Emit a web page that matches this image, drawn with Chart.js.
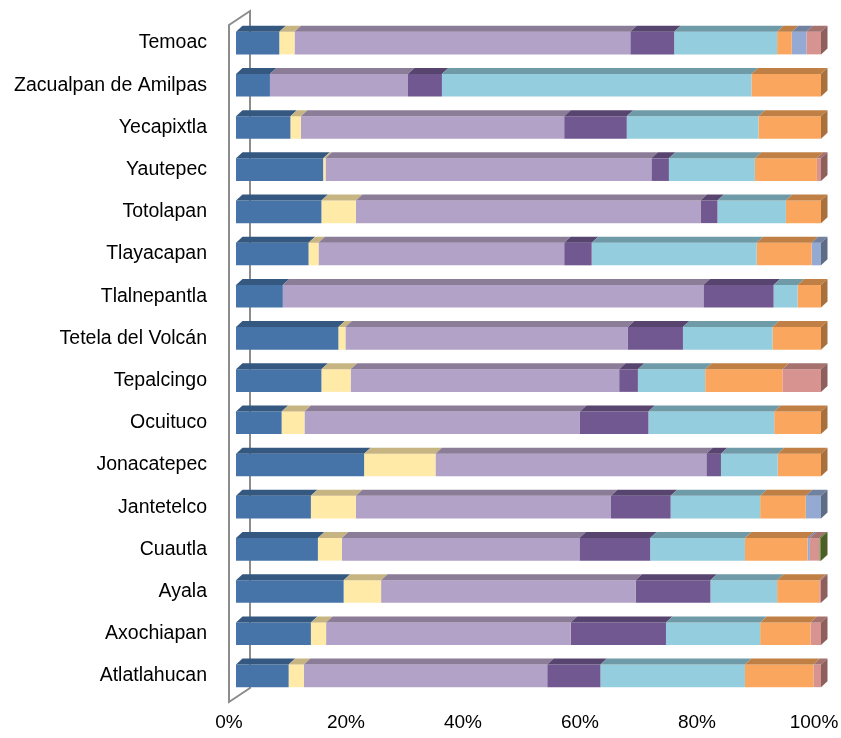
<!DOCTYPE html>
<html>
<head>
<meta charset="utf-8">
<script src="https://cdn.jsdelivr.net/npm/chart.js@4"></script>
<style>
    body { margin: 0; background: #ffffff; }
    #wrap { width: 841px; height: 738px; }
</style>
</head>
<body>
<div id="wrap"><canvas id="chart" width="841" height="738"></canvas></div>
<script>
    // Municipios (de arriba hacia abajo)
    var municipios = ['Temoac', 'Zacualpan de Amilpas', 'Yecapixtla', 'Yautepec', 'Totolapan',
        'Tlayacapan', 'Tlalnepantla', 'Tetela del Volcán', 'Tepalcingo', 'Ocuituco',
        'Jonacatepec', 'Jantetelco', 'Cuautla', 'Ayala', 'Axochiapan', 'Atlatlahucan'];

    // Porcentajes, una serie por color
    var serie1 = [7.4, 5.8, 9.3, 14.9, 14.6, 12.4, 8.0, 17.5, 14.6, 7.8, 21.9, 12.8, 14.0, 18.4, 12.8, 9.0];
    var serie2 = [2.6, 0, 1.8, 0.4, 5.9, 1.7, 0, 1.2, 5.0, 3.9, 12.2, 7.7, 4.1, 6.4, 2.6, 2.6];
    var serie3 = [57.4, 23.6, 45.0, 55.7, 58.9, 42.0, 71.9, 48.3, 45.9, 47.1, 46.3, 43.6, 40.6, 43.5, 41.8, 41.6];
    var serie4 = [7.5, 5.8, 10.7, 3.0, 2.9, 4.7, 12.0, 9.4, 3.2, 11.7, 2.5, 10.2, 12.1, 12.8, 16.3, 9.1];
    var serie5 = [17.6, 52.9, 22.5, 14.7, 11.7, 28.2, 4.1, 15.3, 11.5, 21.5, 9.7, 15.3, 16.2, 11.4, 16.1, 24.7];
    var serie6 = [2.5, 11.9, 10.7, 10.6, 6.0, 9.4, 4.0, 8.3, 13.2, 8.0, 7.4, 7.8, 10.7, 7.2, 8.6, 11.7];
    var serie7 = [2.5, 0, 0, 0, 0, 1.6, 0, 0, 0, 0, 0, 2.6, 0.4, 0, 0, 0];
    var serie8 = [2.5, 0, 0, 0.7, 0, 0, 0, 0, 6.6, 0, 0, 0, 1.6, 0.3, 1.8, 1.3];
    var serie9 = [0, 0, 0, 0, 0, 0, 0, 0, 0, 0, 0, 0, 0.3, 0, 0, 0];

    var xTicks = [0, 20, 40, 60, 80, 100];

    var series = [serie1, serie2, serie3, serie4, serie5, serie6, serie7, serie8, serie9];
    // [frente, cara superior, lado]
    var colores = [
        ['#4674a8', '#34587f', '#2c4a6b'],
        ['#ffeaa8', '#c6b583', '#a89a6e'],
        ['#b3a2c7', '#8b7c98', '#76688a'],
        ['#725890', '#574570', '#4a3a5f'],
        ['#94cddd', '#6f9ba8', '#5e8590'],
        ['#faa65e', '#c07f45', '#a8703d'],
        ['#95aad2', '#72819f', '#5f6c86'],
        ['#d69390', '#a5726f', '#8d5f5d'],
        ['#7a9450', '#5a7030', '#4c5f29']
    ];

    var DX = 6.5, DY = 6;

    function poly(ctx, pts, color) {
        ctx.beginPath();
        ctx.moveTo(pts[0][0], pts[0][1]);
        for (var k = 1; k < pts.length; k++) {
            ctx.lineTo(pts[k][0], pts[k][1]);
        }
        ctx.closePath();
        ctx.fillStyle = color;
        ctx.fill();
    }

    function sinPadding(scale) {
        scale.paddingLeft = 0;
        scale.paddingRight = 0;
        scale.paddingTop = 0;
        scale.paddingBottom = 0;
    }

    // Paredes del eje (efecto 3D)
    var wallPlugin = {
        id: 'wall',
        beforeDatasetsDraw: function (chart) {
            var ctx = chart.ctx;
            var x0 = chart.scales.x.getPixelForValue(0);
            var a = chart.chartArea;
            ctx.save();
            ctx.strokeStyle = '#8c8c8c';
            ctx.lineWidth = 2;
            ctx.beginPath();
            ctx.moveTo(x0 - 7, a.top + 3);
            ctx.lineTo(x0 + 14, a.top - 11);
            ctx.lineTo(x0 + 14, a.bottom - 9);
            ctx.lineTo(x0 - 7, a.bottom + 5);
            ctx.closePath();
            ctx.stroke();
            ctx.restore();
        },
        afterDatasetsDraw: function (chart) {
            var ctx = chart.ctx;
            ctx.save();
            for (var i = 0; i < municipios.length; i++) {
                var last = null;
                for (var d = 0; d < series.length; d++) {
                    var el = chart.getDatasetMeta(d).data[i];
                    if (!series[d][i]) continue;
                    var left = Math.min(el.x, el.base);
                    var right = Math.max(el.x, el.base);
                    var top = el.y - el.height / 2;
                    poly(ctx, [[left, top], [left + DX, top - DY], [right + DX, top - DY], [right, top]], colores[d][1]);
                    last = d;
                }
                if (last !== null) {
                    var e = chart.getDatasetMeta(last).data[i];
                    var r = Math.max(e.x, e.base);
                    var t = e.y - e.height / 2;
                    var b = e.y + e.height / 2;
                    poly(ctx, [[r, t], [r + DX, t - DY], [r + DX, b - DY], [r, b]], colores[last][2]);
                }
            }
            ctx.restore();
        }
    };

    var fuente = "'Liberation Sans', Arial, sans-serif";

    new Chart(document.getElementById('chart').getContext('2d'), {
        type: 'bar',
        data: {
            labels: municipios,
            datasets: series.map(function (s, d) {
                return {
                    label: 'Serie ' + (d + 1),
                    data: s,
                    backgroundColor: colores[d][0],
                    borderWidth: 0,
                    barPercentage: 0.535,
                    categoryPercentage: 1
                };
            })
        },
        options: {
            indexAxis: 'y',
            responsive: false,
            animation: false,
            layout: { padding: { left: 0, right: 20, top: 22, bottom: 0 } },
            plugins: {
                legend: { display: false },
                title: { display: false },
                tooltip: { enabled: false }
            },
            scales: {
                x: {
                    stacked: true,
                    min: 0,
                    max: 100,
                    afterBuildTicks: function (scale) {
                        scale.ticks = xTicks.map(function (v) { return { value: v }; });
                    },
                    afterFit: function (scale) {
                        scale.height = 41;
                        sinPadding(scale);
                    },
                    grid: { display: false, drawTicks: false },
                    border: { display: false },
                    ticks: {
                        callback: function (v) { return v + '%'; },
                        font: { family: fuente, size: 19 },
                        color: '#000000',
                        padding: 14,
                        labelOffset: -7,
                        maxRotation: 0
                    }
                },
                y: {
                    stacked: true,
                    afterFit: function (scale) {
                        scale.width = 236;
                        sinPadding(scale);
                    },
                    grid: { display: false, drawTicks: false },
                    border: { display: false },
                    ticks: {
                        font: { family: fuente, size: 19.5 },
                        color: '#000000',
                        padding: 29
                    }
                }
            }
        },
        plugins: [wallPlugin]
    });
</script>
</body>
</html>
